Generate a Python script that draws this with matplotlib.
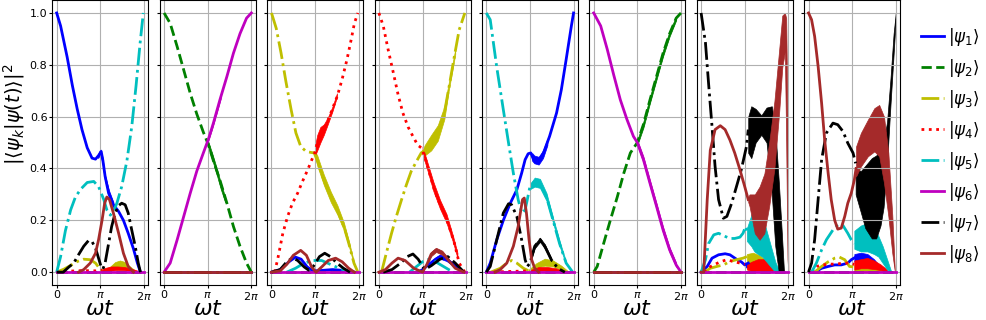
import numpy as np
import matplotlib
matplotlib.use("Agg")
import matplotlib.pyplot as plt
from matplotlib.lines import Line2D

# time axis in units of pi, populations read off the reference
# ---- panel 1 ----
p1_s1_t = [0, 0.09, 0.24, 0.36, 0.47, 0.58, 0.70, 0.81, 0.89, 0.96, 1.02, 1.06, 1.11, 1.19, 1.30, 1.42, 1.53, 1.64, 1.76, 1.85, 1.92]
p1_s1_y = [1.0, 0.95, 0.83, 0.72, 0.63, 0.55, 0.48, 0.44, 0.436, 0.45, 0.466, 0.43, 0.37, 0.305, 0.26, 0.234, 0.2, 0.15, 0.09, 0.035, 0.0]
p1_s1_band = ([0.95, 1.0, 1.05, 1.1, 1.2, 1.3], [0.44, 0.455, 0.42, 0.36, 0.29, 0.25], [0.455, 0.475, 0.445, 0.38, 0.315, 0.27])
p1_s3_t = [0, 0.17, 0.32, 0.47, 0.62, 0.77, 0.89, 0.98, 1.04]
p1_s3_y = [0, 0.012, 0.026, 0.041, 0.05, 0.048, 0.035, 0.015, 0.006]
p1_s3_band = ([1.04, 1.11, 1.23, 1.34, 1.45, 1.57, 1.68, 1.80, 1.9], [0.004, 0.005, 0.008, 0.012, 0.015, 0.013, 0.01, 0.003, 0], [0.006, 0.01, 0.022, 0.039, 0.045, 0.039, 0.022, 0.006, 0])
p1_s4_t = [0, 0.3, 0.6, 0.9, 1.05]
p1_s4_y = [0, 0.004, 0.006, 0.005, 0.008]
p1_s4_band = ([1.0, 1.1, 1.25, 1.4, 1.55, 1.7, 1.85, 1.92], [0.004, 0.004, 0.006, 0.008, 0.007, 0.005, 0.002, 0], [0.006, 0.016, 0.022, 0.022, 0.02, 0.014, 0.006, 0])
p1_s5_t = [0, 0.09, 0.20, 0.32, 0.43, 0.55, 0.70, 0.85, 0.96, 1.08, 1.15, 1.23, 1.30, 1.38, 1.49, 1.61, 1.72, 1.82, 1.91, 1.985]
p1_s5_y = [0, 0.06, 0.16, 0.24, 0.29, 0.32, 0.346, 0.35, 0.33, 0.28, 0.24, 0.22, 0.234, 0.266, 0.33, 0.43, 0.56, 0.72, 0.88, 1.0]
p1_s7_t = [0, 0.15, 0.28, 0.39, 0.5, 0.62, 0.73, 0.81, 0.89, 0.96, 1.02, 1.06, 1.11, 1.19, 1.26, 1.34, 1.42, 1.49, 1.57, 1.64, 1.72, 1.80, 1.87, 1.92]
p1_s7_y = [0, 0.0, 0.02, 0.035, 0.067, 0.1, 0.122, 0.118, 0.093, 0.054, 0.02, 0.012, 0.035, 0.11, 0.176, 0.228, 0.257, 0.266, 0.26, 0.228, 0.163, 0.1, 0.035, 0.0]
p1_s8_t = [0.5, 0.62, 0.77, 0.89, 0.96, 1.04, 1.10, 1.15, 1.21, 1.30, 1.42, 1.53, 1.64, 1.76]
p1_s8_y = [0.0, 0.01, 0.035, 0.073, 0.125, 0.2, 0.266, 0.29, 0.28, 0.228, 0.15, 0.073, 0.022, 0.0]

# ---- panel 2 ----
p2_s2_t = [0, 0.14, 0.30, 0.45, 0.60, 0.75, 0.90, 1.02, 1.13, 1.28, 1.44, 1.59, 1.74, 1.89, 2.0]
p2_s2_y = [1.0, 0.96, 0.87, 0.78, 0.69, 0.61, 0.54, 0.49, 0.43, 0.355, 0.266, 0.176, 0.1, 0.035, 0.0]
p2_s2_band = ([1.0, 1.1, 1.2, 1.3, 1.4], [0.485, 0.435, 0.38, 0.32, 0.27], [0.51, 0.46, 0.405, 0.345, 0.29])
p2_s6_t = [0, 0.14, 0.30, 0.45, 0.60, 0.75, 0.90, 1.02, 1.13, 1.28, 1.44, 1.59, 1.74, 1.89, 2.0]
p2_s6_y = [0, 0.035, 0.125, 0.215, 0.305, 0.39, 0.46, 0.515, 0.575, 0.665, 0.755, 0.845, 0.92, 0.98, 1.0]
p2_s6_band = ([1.0, 1.1, 1.2, 1.3], [0.5, 0.552, 0.61, 0.67], [0.515, 0.57, 0.628, 0.686])

# ---- panel 3 ----
p3_s1_t = [0, 0.2, 0.4, 0.55, 0.68, 0.82, 0.95, 1.1, 1.4, 1.7, 1.9]
p3_s1_y = [0, 0.01, 0.04, 0.058, 0.05, 0.02, 0.005, 0.006, 0.01, 0.006, 0]
p3_s3_t = [0, 0.11, 0.22, 0.33, 0.45, 0.56, 0.67, 0.79, 0.90, 0.98, 1.05, 1.20, 1.36, 1.51, 1.66, 1.77, 1.89, 1.98]
p3_s3_y = [1.0, 0.94, 0.845, 0.736, 0.627, 0.537, 0.485, 0.466, 0.462, 0.46, 0.43, 0.356, 0.29, 0.24, 0.176, 0.112, 0.035, 0.0]
p3_s3_band = ([1.0, 1.05, 1.2, 1.36, 1.51, 1.66, 1.77, 1.89], [0.45, 0.41, 0.336, 0.27, 0.222, 0.161, 0.102, 0.03], [0.465, 0.45, 0.376, 0.31, 0.258, 0.191, 0.122, 0.04])
p3_s4_t = [0.07, 0.14, 0.26, 0.37, 0.48, 0.60, 0.71, 0.83, 0.94, 0.99, 1.05, 1.17, 1.28, 1.39, 1.51, 1.62, 1.73, 1.83, 1.90, 1.98]
p3_s4_y = [0.0, 0.048, 0.15, 0.215, 0.266, 0.305, 0.35, 0.395, 0.44, 0.46, 0.5, 0.537, 0.58, 0.627, 0.68, 0.745, 0.82, 0.9, 0.96, 1.0]
p3_s4_band = ([1.0, 1.05, 1.12, 1.2, 1.3, 1.4, 1.5], [0.45, 0.47, 0.5, 0.53, 0.575, 0.622, 0.676], [0.49, 0.53, 0.56, 0.57, 0.6, 0.64, 0.69])
p3_s5_t = [0.35, 0.55, 0.75, 0.95, 1.15, 1.35, 1.55, 1.75, 1.9]
p3_s5_y = [0.0, 0.015, 0.035, 0.045, 0.045, 0.03, 0.015, 0.004, 0.0]
p3_s7_t = [0, 0.2, 0.35, 0.48, 0.6, 0.75, 0.85, 0.95, 1.1, 1.22, 1.35, 1.5, 1.65, 1.8]
p3_s7_y = [0, 0.01, 0.04, 0.055, 0.045, 0.02, 0.008, 0.02, 0.06, 0.073, 0.06, 0.035, 0.015, 0.0]
p3_s8_t = [0, 0.2, 0.35, 0.5, 0.67, 0.8, 0.92, 1.02, 1.15, 1.3, 1.47, 1.62, 1.77, 1.9]
p3_s8_y = [0, 0.005, 0.03, 0.065, 0.084, 0.065, 0.02, 0.0, 0.02, 0.045, 0.054, 0.04, 0.015, 0.0]

# ---- panel 4 ----
p4_s1_t = [0.9, 1.0, 1.15, 1.3, 1.4, 1.55, 1.7, 1.85, 1.95]
p4_s1_y = [0, 0.01, 0.03, 0.05, 0.06, 0.05, 0.03, 0.01, 0]
p4_s1_band = ([1.15, 1.3, 1.4, 1.55, 1.7], [0.025, 0.043, 0.052, 0.043, 0.025], [0.036, 0.057, 0.068, 0.057, 0.035])
p4_s3_t = [0.06, 0.17, 0.29, 0.4, 0.52, 0.63, 0.74, 0.86, 0.97, 1.05, 1.2, 1.35, 1.5, 1.61, 1.73, 1.84, 1.97]
p4_s3_y = [0, 0.073, 0.15, 0.215, 0.28, 0.337, 0.389, 0.427, 0.46, 0.47, 0.5, 0.537, 0.614, 0.717, 0.833, 0.935, 1.0]
p4_s3_band = ([1.0, 1.05, 1.2, 1.35, 1.5, 1.6, 1.75], [0.455, 0.45, 0.47, 0.507, 0.59, 0.7, 0.84], [0.47, 0.49, 0.53, 0.567, 0.64, 0.73, 0.86])
p4_s4_t = [0, 0.1, 0.21, 0.33, 0.44, 0.55, 0.67, 0.78, 0.89, 0.97, 1.05, 1.16, 1.27, 1.39, 1.5, 1.61, 1.73, 1.84, 1.97]
p4_s4_y = [1.0, 0.95, 0.86, 0.77, 0.685, 0.614, 0.56, 0.524, 0.49, 0.48, 0.447, 0.382, 0.318, 0.266, 0.228, 0.176, 0.112, 0.035, 0.0]
p4_s4_band = ([1.0, 1.1, 1.25, 1.4, 1.55, 1.7, 1.8], [0.455, 0.4, 0.312, 0.245, 0.19, 0.115, 0.055], [0.485, 0.43, 0.348, 0.279, 0.224, 0.139, 0.075])
p4_s5_t = [0.7, 0.85, 1.0, 1.15, 1.3, 1.5, 1.7]
p4_s5_y = [0, 0.02, 0.04, 0.05, 0.04, 0.02, 0.0]
p4_s7_t = [0.1, 0.3, 0.5, 0.65, 0.78, 0.9, 1.05, 1.2, 1.4, 1.58, 1.75, 1.95]
p4_s7_y = [0, 0.01, 0.035, 0.06, 0.07, 0.05, 0.01, 0.025, 0.05, 0.06, 0.035, 0.0]
p4_s8_t = [0, 0.15, 0.3, 0.44, 0.6, 0.8, 1.0, 1.1, 1.2, 1.31, 1.45, 1.6, 1.75, 1.95]
p4_s8_y = [0, 0.01, 0.035, 0.054, 0.045, 0.015, 0.0, 0.03, 0.07, 0.086, 0.075, 0.045, 0.015, 0.0]
p4_s8_band = ([1.1, 1.2, 1.31, 1.45, 1.6], [0.024, 0.062, 0.078, 0.067, 0.038], [0.036, 0.078, 0.094, 0.083, 0.052])

# ---- panel 5 ----
p5_s1_t = [0, 0.09, 0.24, 0.39, 0.55, 0.70, 0.81, 0.89, 0.96, 1.02, 1.08, 1.2, 1.3, 1.45, 1.61, 1.72, 1.83, 1.95, 2.0]
p5_s1_y = [0, 0.035, 0.125, 0.2, 0.266, 0.318, 0.382, 0.434, 0.457, 0.46, 0.435, 0.43, 0.455, 0.524, 0.614, 0.704, 0.82, 0.95, 1.0]
p5_s1_band = ([1.05, 1.1, 1.2, 1.3, 1.4], [0.43, 0.42, 0.415, 0.44, 0.49], [0.46, 0.45, 0.445, 0.47, 0.515])
p5_s3_t = [0.1, 0.32, 0.47, 0.58, 0.7, 0.85, 0.96]
p5_s3_y = [0, 0.015, 0.035, 0.045, 0.035, 0.015, 0.006]
p5_s3_band = ([0.96, 1.15, 1.34, 1.53, 1.72, 1.9], [0.004, 0.018, 0.025, 0.022, 0.01, 0], [0.008, 0.035, 0.052, 0.045, 0.025, 0])
p5_s4_t = [0, 1.0]
p5_s4_y = [0, 0.005]
p5_s4_band = ([1.0, 1.2, 1.4, 1.6, 1.8], [0.003, 0.005, 0.006, 0.004, 0], [0.008, 0.02, 0.02, 0.015, 0.003])
p5_s5_t = [0, 0.09, 0.24, 0.39, 0.51, 0.62, 0.73, 0.81, 0.89, 0.94, 1.0, 1.11, 1.23, 1.38, 1.53, 1.68, 1.83, 1.98]
p5_s5_y = [1.0, 0.974, 0.79, 0.627, 0.498, 0.382, 0.28, 0.228, 0.24, 0.28, 0.33, 0.35, 0.343, 0.29, 0.2, 0.11, 0.035, 0.0]
p5_s5_band = ([1.0, 1.11, 1.23, 1.38, 1.53, 1.68, 1.83], [0.32, 0.33, 0.325, 0.275, 0.19, 0.1, 0.03], [0.34, 0.365, 0.36, 0.305, 0.21, 0.12, 0.04])
p5_s7_t = [0, 0.09, 0.24, 0.39, 0.51, 0.58, 0.70, 0.81, 0.89, 0.94, 1.0, 1.11, 1.23, 1.34, 1.49, 1.64, 1.8]
p5_s7_y = [0, 0.022, 0.125, 0.228, 0.264, 0.26, 0.215, 0.125, 0.048, 0.022, 0.035, 0.1, 0.125, 0.1, 0.048, 0.015, 0.0]
p5_s7_band = ([1.05, 1.11, 1.23, 1.34, 1.49], [0.06, 0.092, 0.117, 0.092, 0.042], [0.075, 0.108, 0.133, 0.108, 0.054])
p5_s8_t = [0.2, 0.32, 0.47, 0.62, 0.73, 0.83, 0.87, 0.92, 0.98, 1.04, 1.11, 1.2]
p5_s8_y = [0, 0.01, 0.035, 0.1, 0.176, 0.28, 0.286, 0.228, 0.125, 0.048, 0.015, 0.0]

# ---- panel 6 ----
p6_s2_t = [0, 0.08, 0.23, 0.38, 0.54, 0.69, 0.84, 1.0, 1.14, 1.29, 1.44, 1.59, 1.74, 1.89, 2.0]
p6_s2_y = [0, 0.022, 0.112, 0.2, 0.29, 0.382, 0.46, 0.5, 0.57, 0.665, 0.755, 0.845, 0.92, 0.98, 1.0]
p6_s2_band = ([1.0, 1.14, 1.29, 1.44, 1.59, 1.74, 1.89], [0.49, 0.558, 0.653, 0.743, 0.833, 0.91, 0.972], [0.51, 0.582, 0.677, 0.767, 0.857, 0.93, 0.988])
p6_s6_t = [0, 0.16, 0.31, 0.46, 0.61, 0.76, 0.91, 1.0, 1.14, 1.29, 1.44, 1.59, 1.74, 1.89, 2.0]
p6_s6_y = [1.0, 0.95, 0.86, 0.76, 0.665, 0.59, 0.524, 0.5, 0.434, 0.343, 0.254, 0.163, 0.086, 0.028, 0.0]
p6_s6_band = ([1.0, 1.14, 1.29, 1.44, 1.59, 1.74, 1.89], [0.49, 0.422, 0.331, 0.242, 0.151, 0.076, 0.02], [0.51, 0.446, 0.355, 0.266, 0.175, 0.096, 0.036])

# ---- panel 7 ----
p7_s1_t = [0, 0.14, 0.25, 0.4, 0.55, 0.66, 0.81, 0.92, 1.0, 1.08]
p7_s1_y = [0, 0.022, 0.054, 0.067, 0.071, 0.067, 0.05, 0.04, 0.028, 0.035]
p7_s1_band = ([1.0, 1.1, 1.2, 1.35, 1.5], [0.02, 0.015, 0.015, 0.01, 0.005], [0.035, 0.04, 0.035, 0.02, 0.01])
p7_s3_t = [0.07, 0.21, 0.36, 0.51, 0.66, 0.81, 0.96, 1.05]
p7_s3_y = [0, 0.015, 0.022, 0.028, 0.041, 0.048, 0.054, 0.06]
p7_s3_band = ([1.05, 1.19, 1.34, 1.49, 1.64, 1.75], [0.04, 0.035, 0.03, 0.015, 0.005, 0.0], [0.07, 0.075, 0.065, 0.045, 0.022, 0.006])
p7_s4_t = [0.07, 0.14, 0.29, 0.44, 0.59, 0.74, 0.89, 1.0]
p7_s4_y = [0, 0.015, 0.028, 0.04, 0.048, 0.041, 0.035, 0.03]
p7_s4_band = ([1.05, 1.15, 1.3, 1.45, 1.6, 1.72], [0.01, 0.005, 0.005, 0.005, 0.003, 0.0], [0.03, 0.04, 0.05, 0.05, 0.035, 0.01])
p7_s5_t = [0, 0.1, 0.17, 0.29, 0.4, 0.55, 0.66, 0.77, 0.89, 0.96, 1.02, 1.05]
p7_s5_y = [0, 0.048, 0.11, 0.144, 0.15, 0.138, 0.13, 0.13, 0.135, 0.15, 0.176, 0.16]
p7_s5_band = ([1.05, 1.15, 1.22, 1.3, 1.4, 1.5, 1.6, 1.7, 1.8], [0.12, 0.1, 0.08, 0.07, 0.06, 0.04, 0.02, 0.0, 0.0], [0.17, 0.22, 0.26, 0.25, 0.22, 0.16, 0.1, 0.04, 0.0])
p7_s7_t = [0, 0.1, 0.17, 0.25, 0.32, 0.4, 0.51, 0.59, 0.7, 0.81, 0.92, 1.04, 1.08]
p7_s7_y = [1.0, 0.884, 0.73, 0.562, 0.408, 0.28, 0.208, 0.215, 0.266, 0.33, 0.395, 0.485, 0.55]
p7_s7_band = ([1.08, 1.15, 1.25, 1.38, 1.5, 1.62, 1.7, 1.78, 1.85, 1.9], [0.46, 0.44, 0.5, 0.53, 0.5, 0.3, 0.1, 0.0, 0.0, 0.0], [0.6, 0.64, 0.63, 0.605, 0.635, 0.64, 0.55, 0.35, 0.15, 0.0])
p7_s8_t = [0, 0.06, 0.14, 0.21, 0.32, 0.44, 0.55, 0.66, 0.77, 0.89, 1.0, 1.08]
p7_s8_y = [0, 0.0, 0.28, 0.47, 0.55, 0.565, 0.55, 0.51, 0.46, 0.395, 0.33, 0.28]
p7_s8_band = ([1.08, 1.11, 1.23, 1.34, 1.45, 1.56, 1.68, 1.79, 1.86, 1.92, 1.95, 1.98, 2.0],
              [0.27, 0.254, 0.15, 0.125, 0.15, 0.254, 0.4, 0.62, 0.79, 0.85, 0.5, 0.05, 0.0],
              [0.29, 0.3, 0.3, 0.33, 0.38, 0.5, 0.66, 0.86, 0.99, 1.0, 0.98, 0.6, 0.0])

# ---- panel 8 ----
p8_s1_t = [0.14, 0.3, 0.45, 0.6, 0.75, 0.9, 0.98, 1.05]
p8_s1_y = [0, 0.015, 0.022, 0.028, 0.028, 0.035, 0.048, 0.055]
p8_s1_band = ([1.05, 1.2, 1.35, 1.5, 1.65, 1.8, 1.9], [0.04, 0.04, 0.035, 0.025, 0.01, 0.0, 0.0], [0.07, 0.075, 0.07, 0.05, 0.02, 0.005, 0.0])
p8_s3_t = [0.14, 0.3, 0.45, 0.6, 0.71, 0.83, 0.94, 1.05]
p8_s3_y = [0, 0.022, 0.04, 0.054, 0.058, 0.048, 0.022, 0.02]
p8_s3_band = ([1.05, 1.2, 1.35, 1.5, 1.7, 1.85], [0.0, 0.003, 0.003, 0.002, 0.0, 0.0], [0.03, 0.035, 0.03, 0.02, 0.01, 0.0])
p8_s4_t = [0.07, 0.18, 0.33, 0.48, 0.64, 0.79, 0.94, 1.05]
p8_s4_y = [0, 0.022, 0.028, 0.031, 0.031, 0.035, 0.035, 0.03]
p8_s4_band = ([1.05, 1.2, 1.35, 1.5, 1.65, 1.8], [0.01, 0.015, 0.015, 0.012, 0.008, 0.0], [0.045, 0.05, 0.055, 0.045, 0.03, 0.01])
p8_s5_t = [0.07, 0.18, 0.3, 0.41, 0.56, 0.67, 0.79, 0.9, 0.98, 1.05]
p8_s5_y = [0, 0.035, 0.086, 0.125, 0.163, 0.183, 0.18, 0.15, 0.125, 0.11]
p8_s5_band = ([1.05, 1.2, 1.35, 1.5, 1.6, 1.7, 1.8, 1.9], [0.09, 0.08, 0.08, 0.07, 0.06, 0.035, 0.01, 0.0], [0.16, 0.18, 0.19, 0.17, 0.14, 0.1, 0.05, 0.0])
p8_s7_t = [0, 0.07, 0.14, 0.22, 0.3, 0.41, 0.56, 0.67, 0.79, 0.9, 1.02, 1.08]
p8_s7_y = [0, 0.035, 0.125, 0.28, 0.434, 0.537, 0.575, 0.569, 0.543, 0.498, 0.46, 0.42]
p8_s7_band = ([1.08, 1.2, 1.3, 1.45, 1.55, 1.65, 1.72, 1.8, 1.88, 1.95, 2.0],
              [0.3, 0.23, 0.17, 0.13, 0.13, 0.18, 0.25, 0.42, 0.65, 0.84, 0.98],
              [0.4, 0.39, 0.41, 0.44, 0.45, 0.47, 0.5, 0.58, 0.75, 0.92, 1.0])
p8_s8_t = [0, 0.07, 0.14, 0.22, 0.3, 0.37, 0.45, 0.52, 0.6, 0.67, 0.75, 0.83, 0.9, 0.98, 1.05, 1.09]
p8_s8_y = [1.0, 0.974, 0.91, 0.794, 0.652, 0.51, 0.382, 0.28, 0.2, 0.166, 0.17, 0.215, 0.266, 0.305, 0.356, 0.4]
p8_s8_band = ([1.09, 1.2, 1.36, 1.51, 1.62, 1.73, 1.83, 1.92, 1.98],
              [0.37, 0.408, 0.447, 0.466, 0.447, 0.344, 0.215, 0.073, 0.0],
              [0.485, 0.537, 0.588, 0.633, 0.645, 0.6, 0.46, 0.22, 0.0])

zero_t = [0, 2]
zero_y = [0, 0]

state_colors = ["b", "g", "y", "r", "c", "m", "k", "brown"]
state_styles = ["-", "--", "-.", ":", "-.", "-", "-.", "-"]
state_labels = [r"$|\psi_{%d}\rangle$" % k for k in range(1, 9)]

# collect curves per panel: state -> (t, y, band or None)
g = globals()
panels = []
for p in range(1, 9):
    curves = {}
    for s in range(1, 9):
        key = "p%d_s%d" % (p, s)
        if key + "_t" in g:
            curves[s] = (g[key + "_t"], g[key + "_y"], g.get(key + "_band"))
        else:
            curves[s] = (zero_t, zero_y, None)
    panels.append(curves)

fig, axes = plt.subplots(1, 8, sharey=True, figsize=(9.87, 3.2), dpi=100)
fig.subplots_adjust(left=0.053, right=0.912, top=1.0, bottom=0.109, wspace=0.119)

for ax, curves in zip(axes, panels):
    for s in range(1, 9):
        t, y, band = curves[s]
        c = state_colors[s - 1]
        ax.plot(np.array(t) * np.pi, y, state_styles[s - 1], color=c, lw=2)
        if band is not None:
            bt, lo, hi = band
            ax.fill_between(np.array(bt) * np.pi, lo, hi, color=c, lw=0.5)
    ax.set_xticks([0, np.pi, 2 * np.pi])
    ax.set_xticklabels(["0", r"$\pi$", r"$2\pi$"])
    ax.set_yticks([0, 0.2, 0.4, 0.6, 0.8, 1.0])
    ax.tick_params(labelsize=8, length=2.5, pad=1.0)
    ax.grid(True)
    ax.set_xlabel(r"$\omega t$", fontsize=16, labelpad=-2)

axes[0].set_ylabel(r"$|\langle\psi_k|\psi(t)\rangle|^2$", fontsize=14)
axes[0].yaxis.set_label_coords(-0.26, 0.6)

handles = [Line2D([], [], color=c, ls=ls, lw=2) for c, ls in zip(state_colors, state_styles)]
fig.legend(handles, state_labels, loc="center left", bbox_to_anchor=(0.918, 0.545),
           frameon=False, fontsize=12, handlelength=1.4, handletextpad=0.2, labelspacing=0.54)

fig.savefig("out.png", dpi=100)
